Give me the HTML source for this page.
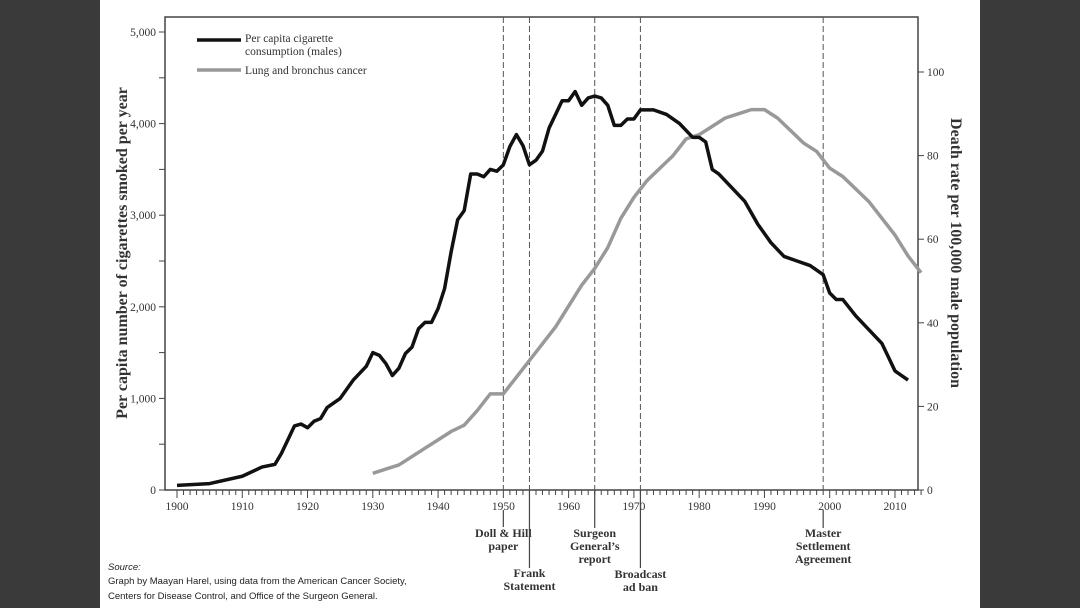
<!DOCTYPE html>
<html><head><meta charset="utf-8"><style>
body{margin:0;width:1080px;height:608px;background:#3a3a3a;overflow:hidden}
#w{position:absolute;left:100px;top:0;width:880px;height:608px;background:#fff}
svg{position:absolute;left:0;top:0}
text{font-family:"Liberation Serif",serif;fill:#333}
.src{position:absolute;left:108px;font:9.5px "Liberation Sans",sans-serif;color:#222}
</style></head><body>
<div id="w"></div>
<svg id="s" width="1080" height="608" viewBox="0 0 1080 608"></svg>
<div class="src" style="top:562px;font-style:italic">Source:</div>
<div class="src" style="top:576px">Graph by Maayan Harel, using data from the American Cancer Society,</div>
<div class="src" style="top:591px">Centers for Disease Control, and Office of the Surgeon General.</div>
<script>
const s=document.getElementById('s');let h='';
const X=y=>177+(y-1900)*6.527, YL=v=>490-v*0.0916, YR=v=>490-v*4.18;
h+='<rect x="165" y="17" width="753" height="473" fill="none" stroke="#444" stroke-width="1.5"/>';
for(let y=1900;y<=2014;y++){const x=X(y);h+=`<line x1="${x}" y1="490" x2="${x}" y2="${y%10?495:498}" stroke="#444"/>`;if(y%10==0)h+=`<text x="${x}" y="510" font-size="11.5" text-anchor="middle">${y}</text>`}
for(let v=0;v<=5000;v+=500){const y=YL(v);h+=`<line x1="159" y1="${y}" x2="165" y2="${y}" stroke="#444"/>`;if(v%1000==0)h+=`<text x="156" y="${y+4}" font-size="11.5" text-anchor="end">${v?v.toLocaleString('en-US'):0}</text>`}
for(let v=0;v<=100;v+=20){const y=YR(v);h+=`<line x1="918" y1="${y}" x2="924" y2="${y}" stroke="#444"/><text x="927" y="${y+4}" font-size="11.5">${v}</text>`}
h+='<text transform="translate(127,253) rotate(-90)" font-size="16" font-weight="bold" text-anchor="middle" fill="#222">Per capita number of cigarettes smoked per year</text>';
h+='<text transform="translate(951,253) rotate(90)" font-size="16" font-weight="bold" text-anchor="middle" fill="#222">Death rate per 100,000 male population</text>';
const ev=[[1950,510,527,537,["Doll & Hill","paper"]],[1954,490,568,577,["Frank","Statement"]],[1964,490,528,537,["Surgeon","General’s","report"]],[1971,490,568,578,["Broadcast","ad ban"]],[1999,510,528,537,["Master","Settlement","Agreement"]]];
ev.forEach(([yr,a,bb,ty,lab])=>{const x=X(yr);h+=`<line x1="${x}" y1="17" x2="${x}" y2="490" stroke="#555" stroke-dasharray="6,3"/><line x1="${x}" y1="${a}" x2="${x}" y2="${bb}" stroke="#444" stroke-width="1.2"/>`;lab.forEach((t,i)=>h+=`<text x="${x}" y="${ty+i*13}" font-size="12" font-weight="bold" text-anchor="middle" fill="#222">${t.replace('&','&amp;')}</text>`)});
const b=[[1900,50],[1905,70],[1910,150],[1913,250],[1915,280],[1916,400],[1918,700],[1919,720],[1920,680],[1921,750],[1922,780],[1923,900],[1925,1000],[1927,1200],[1929,1350],[1930,1500],[1931,1470],[1932,1380],[1933,1250],[1934,1330],[1935,1490],[1936,1560],[1937,1760],[1938,1830],[1939,1830],[1940,1980],[1941,2200],[1942,2600],[1943,2950],[1944,3050],[1945,3450],[1946,3450],[1947,3420],[1948,3500],[1949,3480],[1950,3550],[1951,3750],[1952,3880],[1953,3760],[1954,3550],[1955,3600],[1956,3700],[1957,3950],[1958,4100],[1959,4250],[1960,4250],[1961,4350],[1962,4200],[1963,4280],[1964,4300],[1965,4280],[1966,4200],[1967,3980],[1968,3980],[1969,4050],[1970,4050],[1971,4150],[1973,4150],[1975,4100],[1977,4000],[1979,3850],[1980,3850],[1981,3800],[1982,3500],[1983,3450],[1985,3300],[1987,3150],[1989,2900],[1991,2700],[1993,2550],[1995,2500],[1997,2450],[1999,2350],[2000,2150],[2001,2080],[2002,2080],[2004,1900],[2006,1750],[2008,1600],[2009,1450],[2010,1300],[2012,1200]];
const g=[[1930,4],[1932,5],[1934,6],[1936,8],[1938,10],[1940,12],[1942,14],[1944,15.5],[1946,19],[1948,23],[1950,23],[1952,27],[1954,31],[1956,35],[1958,39],[1960,44],[1962,49],[1964,53],[1966,58],[1968,65],[1970,70],[1972,74],[1974,77],[1976,80],[1978,84],[1980,85],[1982,87],[1984,89],[1986,90],[1988,91],[1990,91],[1992,89],[1994,86],[1996,83],[1998,81],[2000,77],[2002,75],[2004,72],[2006,69],[2008,65],[2010,61],[2012,56],[2014,52]];
h+=`<polyline fill="none" stroke="#999" stroke-width="3.5" stroke-linejoin="round" points="${g.map(p=>X(p[0])+','+YR(p[1])).join(' ')}"/>`;
h+=`<polyline fill="none" stroke="#111" stroke-width="3.5" stroke-linejoin="round" points="${b.map(p=>X(p[0])+','+YL(p[1])).join(' ')}"/>`;
h+='<line x1="197" y1="40" x2="241" y2="40" stroke="#111" stroke-width="3.5"/><line x1="197" y1="70" x2="241" y2="70" stroke="#999" stroke-width="3.5"/>';
h+='<text x="245" y="42" font-size="11.5">Per capita cigarette</text><text x="245" y="55" font-size="11.5">consumption (males)</text><text x="245" y="74" font-size="11.5">Lung and bronchus cancer</text>';
s.innerHTML=h;
</script>
</body></html>
